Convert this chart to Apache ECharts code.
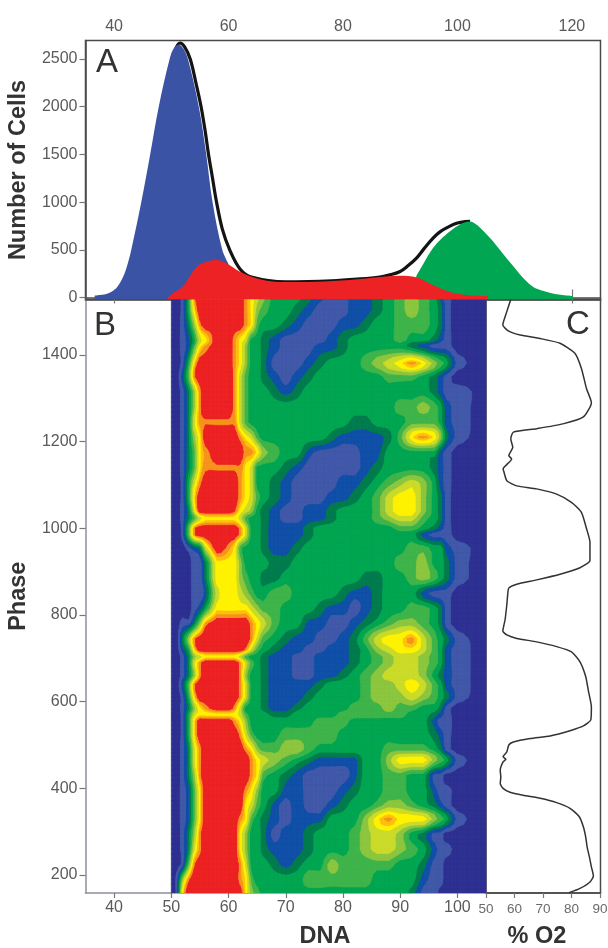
<!DOCTYPE html>
<html><head><meta charset="utf-8">
<style>html,body{margin:0;padding:0;background:#fff}#c{width:608px;height:948px}</style>
<script src="https://cdn.jsdelivr.net/npm/echarts@6/dist/echarts.min.js"></script>
</head><body><div id="c"></div>
<script>
// Panel A: histogram curves [DNA, cells]
const totalCurve = [[50.7,2600],[51.5,2668],[52.3,2630],[53.3,2500],[54.3,2250],[55.2,2000],[55.9,1750],[56.5,1500],[57.2,1250],[57.9,1000],[58.9,720],[60.2,500],[62,300],[64,215],[70,165],[78,175],[83,195],[86.4,215],[88,235],[89.9,270],[91.4,335],[92.8,410],[94.2,515],[95.7,620],[97,690],[98.6,745],[100,780],[101.4,795],[102.2,797]];
const g1Curve = [[36.6,20],[37.5,26],[39,45],[40.4,100],[41.6,220],[42.4,360],[43,500],[44.75,1000],[46.3,1500],[47.8,2000],[49.7,2500],[50.4,2610],[51.3,2650],[52.1,2610],[52.9,2500],[54.8,2000],[56.1,1500],[57.2,1000],[58.9,500],[60,350]];
const sCurve = [[49.4,0],[50.3,45],[52,115],[54.4,320],[56.1,375],[57.9,393],[59.6,360],[62,270],[64.3,212],[66.7,176],[69.5,162],[72.4,162],[78.2,173],[84,200],[89.9,228],[92.8,212],[95.7,131],[98.6,60],[101.6,26],[105.3,15]];
const g2Curve = [[92.8,225],[94.2,370],[95.7,515],[97.1,610],[98.6,690],[100,750],[101.2,785],[102.2,797],[103.3,765],[104.4,705],[105.9,610],[107.4,500],[108.8,395],[110.3,288],[111.7,190],[113.2,113],[114.6,75],[116.1,50],[118,28],[120.2,15]];

// Panel B: contour density on a DNA x phase lattice
const dnaNodes = [50,51,52,53,54,55,56,58,60,61,62,63,64,65,66,68,70,72,74,76,78,80,82,84,86,88,90,92,94,96,97,98,100,105];
const phaseNodes = [1540,1505,1470,1435,1419,1381,1350,1315,1280,1245,1210,1175,1140,1105,1070,1040,1023,1000,985,955,920,885,850,815,780,745,720,704,690,660,640,610,585,570,555,525,490,465,430,395,360,329,295,260,225,190,155];
const densityRows = [
[0,0,1,4,9,10,10,10,10,10,10,9,8,7,6,4,4,4,3,2,1,1,2,2,3,4,5,6,5,4,2,1,0,0],
[0,0,1,4,8,10,10,10,10,10,10,9,8,6,5,4,4,3,2,1,1,1,2,2,3,4,5,6,5,4,3,1,0,0],
[0,0,1,3,6,9,10,10,10,10,10,9,8,5,4,4,3,2,1,1,1,2,2,3,4,4,5,5,5,4,3,1,0,0],
[0,0,1,2,4,7,8,10,10,9,8,7,4,4,3,2,1,1,1,1,2,3,4,4,4,4,5,4,4,3,2,1,0,0],
[0,0,1,2,5,8,9,10,10,9,8,6,4,4,3,2,1,1,1,2,2,3,4,4,4,4,4,3,2,1,1,1,0,0],
[0,0,1,4,8,10,10,10,10,9,8,6,4,4,3,1,1,1,2,3,4,4,4,5,6,7,8,9,8,6,5,4,1,0],
[0,0,2,5,9,10,10,10,10,9,7,5,4,4,3,2,1,2,3,4,4,4,4,4,4,5,5,5,4,3,2,1,0,0],
[0,0,1,3,6,9,10,10,10,9,7,5,4,4,4,3,2,3,4,4,4,4,4,4,4,4,4,4,4,3,2,1,1,0],
[0,0,1,3,6,9,10,10,10,9,7,5,4,4,4,4,4,4,4,4,4,4,4,4,4,4,5,5,6,5,4,2,1,0],
[0,0,1,3,7,9,9.3,9.3,9.3,9.2,7,5,4,4,4,4,4,4,4,4,4,4,3,3,4,4,4,5,5,5,4,2,1,0],
[0,0,1,3,6,8,10,10,10,10,9,8,7,5,4,4,4,4,4,4,3,2,2,2,2,3,5,8,9,8,6,3,1,0],
[0,0,1,3,5,8,9,10,10,10,10,9,9,8,6,5,4,4,2,1,1,1,1,2,2,4,4,4,4,4,2,1,0,0],
[0,0,1,3,5,8,9.2,9.3,9.3,9.3,9.2,8,7,4,4,4,3,2,1,1,1,1,1,2,3,4,4,4,4,3,2,1,0,0],
[0,0,1,4,7,9,10,10,10,10,9,8,7,4,4,3,2,1,1,1,1,2,2,3,4,5,6,7,6,4,2,1,0,0],
[0,0,1,4,8,10,10,10,10,10,9,8,7,5,4,3,2,1,1,1,2,2,3,4,5,7,8,8,6,4,3,1,0,0],
[0,0,1,3,7,10,10,10,10,9.5,8,7,6,4,3,2,1,1,2,2,3,4,4,4,5,7,8,8,6,4,3,1,0,0],
[0,0,1,3,5,7,8,8,8,8,7,5,4,4,3,2,1,1,2,2,3,4,4,4,5,6,7,7,5,4,3,1,0,0],
[0,0,1,5,9,10,10,10,10,10,9,7,4,4,3,2,2,2,3,4,4,4,4,4,4,4,5,5,4,3,2,1,0,0],
[0,0,1,5,9,10,10,10,10,10,9,7,4,4,3,2,2,2,3,4,4,4,4,4,4,4,4,4,2,1,1,1,0,0],
[0,0,0,1,2,3,7,10,9,8,5,4,4,4,3,2,2,3,4,4,4,4,4,4,4,4,4,5,5,4,4,2,1,0],
[0,0,0,0,1,1,3,8,8,8,6,4,4,4,4,3,3,4,4,4,4,4,4,4,4,4,5,5,6,4,4,3,1,0],
[0,0,0,0,1,1,3,8,8,8,6,5,4,4,3,3,4,4,4,4,4,4,4,3,3,4,4,5,6,5,4,3,1,0],
[0,0,0,0,1,1,2,7,8,8,7,6,5,4,4,5,5,4,4,4,4,3,2,2,3,4,4,4,2,1,1,1,0,0],
[0,0,0,0,1,2,4,8,8,8,8,8,7,6,5,5,4,4,4,3,2,2,1,2,3,4,4,5,5,4,3,1,0,0],
[0,0,1,1,3,6,9,10,10,10,10,10,9,8,7,5,4,4,2,2,1,1,2,3,4,5,6,6,5,4,3,1,0,0],
[0,0,3,6,9,10,10,10,10,10,10,10,9,7,5,4,3,2,2,1,1,2,3,5,7,8,8,9,7,5,4,3,1,0],
[0,0,2,4,8,10,10,10,10,10,10,9,7,5,4,3,2,2,1,1,2,2,3,4,6,7,8,8,7,5,4,2,1,0],
[0,0,1,3,6,7,8,8,8,8,7,5,4,4,3,2,2,1,1,2,2,2,3,4,5,6,7,7,6,5,4,2,1,0],
[0,0,1,3,7,9,10,10,10,10,9,7,5,4,3,2,2,1,1,2,2,2,3,4,5,6,7,7,6,5,4,2,1,0],
[0,0,1,3,6,9,10,10,10,10,9,6,4,4,3,2,2,1,1,2,2,3,4,5,6,7,7,7,6,4,3,2,1,0],
[0,0,2,5,9,10,10,10,10,10,9,7,4,4,3,2,2,2,2,3,4,4,4,5,6,6,7,8,7,5,4,2,1,0],
[0,0,1,4,8,10,10,10,10,10,9,7,4,4,3,2,2,2,3,4,4,4,4,5,6,6,6,7,6,5,4,3,1,0],
[0,0,1,3,6,8,9,10,10,9,7,4,4,4,3,2,2,3,4,4,4,4,5,5,5,6,5,5,4,4,3,1,0,0],
[0,0,1,4,7,8,8,8,8,8,7,5,4,4,4,3,3,4,4,4,4,5,5,5,5,5,5,4,4,3,2,1,0,0],
[0,0,1,4,8,10,10,10,10,9,8,6,4,4,4,4,4,4,4,5,5,5,4,4,4,4,4,4,4,2,1,1,0,0],
[0,0,1,4,8,10,10,10,10,10,9,7,5,4,4,4,5,5,5,5,5,4,4,4,4,4,4,4,4,3,2,1,0,0],
[0,0,1,3,7,9,10,10,10,10,10,9,8,6,5,5,6,6,5,4,4,4,4,4,4,5,5,5,5,4,3,1,0,0],
[0,0,1,3,7,9,10,10,10,10,10,10,9,8,7,6,5,4,3,2,2,2,2,4,4,6,8,8,8,6,5,4,1,0],
[0,0,1,3,6,9,10,10,10,10,10,10,9,8,5,4,3,2,1,1,1,1,2,4,4,5,5,4,4,1,1,0,0,0],
[0,0,1,2,5,8,10,10,10,10,10,9,8,6,4,4,2,2,1,1,1,2,3,4,4,5,5,4,4,2,1,1,0,0],
[0,0,1,2,5,8,10,10,10,10,10,8,7,5,4,2,1,2,1,1,2,3,4,4,5,6,6,5,4,3,2,1,0,0],
[0,0,1,2,5,8,10,10,10,10,9,8,5,4,3,2,1,2,2,2,4,4,4,6,8,9,8,8,8,6,5,4,1,0],
[0,0,1,3,6,9,10,10,10,10,8,6,4,4,3,1,2,2,3,4,4,4,5,6,7,7,6,4,3,1,1,0,0,0],
[0,0,1,3,7,9,10,10,10,10,8,6,4,4,3,2,2,2,3,4,4,4,5,6,7,7,6,5,4,2,1,1,0,0],
[0,0,1,5,9,10,10,10,10,10,9,7,4,4,4,3,2,3,4,4,6,5,5,5,5,5,4,4,3,1,1,0,0,0],
[0,1,6,9,10,10,10,10,10,10,9,8,5,4,4,4,4,4,5,5,5,5,5,5,4,4,4,4,2,1,1,0,0,0],
[0,1,8,10,10,10,10,10,10,10,10,8,6,5,4,4,4,4,4,4,4,4,4,4,4,4,4,3,1,1,0,0,0,0]
];
const bandFloors = [-1,0.5,1.5,2.5,3.5,4.5,5.5,6.5,7.5,8.3,8.8,9.4];
const bandColors = ['#2e3192','#4259a9','#1150a8','#007c4e','#00a651','#3fb44a','#8dc63f','#cbdb2a','#fff200','#fdc010','#f7941d','#ed2224'];

// Panel C: oxygen trace [% O2, phase]
const o2Trace = [[79.2,159],[83,169],[86.5,184],[87.7,198],[87,219],[86.3,242],[85.5,265],[85,288],[84.2,311],[82.7,335],[79.5,354],[74.8,367],[69,377],[63,384],[58.4,391],[56,400],[55,411],[55.2,426],[55,442],[56,461],[57,467],[56,473],[57.3,484],[58,500],[59.6,507],[65.5,515],[72.5,521],[79.5,533],[84.2,544],[86.8,558],[87,588],[86,623],[85,658],[83,692],[80,715],[74.8,727],[67.8,738],[60.8,746],[57.3,754],[55.9,763],[56.3,777],[56.7,789],[57.3,823],[57.6,846],[58,862],[60.8,871],[67.8,881],[76,894],[83,909],[86.5,926],[86.5,968],[85.3,999],[83.5,1037],[80,1060],[74.8,1079],[67.8,1091],[60.8,1098],[57.3,1110],[56.3,1130],[56,1137],[59,1160],[58,1168],[59.4,1187],[58.7,1206],[59.6,1222],[67.8,1230],[77,1241],[84.2,1257],[87,1290],[85.3,1322],[83.5,1369],[81.2,1404],[76,1427],[69,1438],[62,1446],[58,1455],[55.9,1469],[57.3,1500],[58.7,1528]];

// Tick labels
const dnaTopTicks = [40,60,80,100,120];
const dnaBottomTicks = [40,50,60,70,80,90,100];
const cellTicks = [0,500,1000,1500,2000,2500];
const phaseTicks = [200,400,600,800,1000,1200,1400];
const o2Ticks = [50,60,70,80,90];

const FONT = '"Liberation Sans", Arial, sans-serif';
const lineDark = '#4a4a4a', lineSoft = '#8f8f9a', labelCol = '#5a5a5a';
const phaseMin = 158.5, phaseMax = 1528;
const SUB = 3; // contour tracing steps per lattice cell

function cr(a, b, c, d, t) {
  const v = 0.5 * (2*b + (c-a)*t + (2*a-5*b+4*c-d)*t*t + (3*b-a-3*c+d)*t*t*t);
  return Math.max(Math.min(b, c), Math.min(Math.max(b, c), v));
}
const nR = phaseNodes.length, nC = dnaNodes.length;
function smoothField() {
  const h = [];
  for (let r = 0; r < nR; r++) {
    const row = [];
    for (let c = 0; c < nC - 1; c++) for (let s = 0; s < SUB; s++) {
      const g = (k) => densityRows[r][Math.max(0, Math.min(nC - 1, k))];
      row.push(cr(g(c-1), g(c), g(c+1), g(c+2), s / SUB));
    }
    row.push(densityRows[r][nC-1]);
    h.push(row);
  }
  const out = [];
  for (let r = 0; r < nR - 1; r++) for (let s = 0; s < SUB; s++) {
    const g = (k) => h[Math.max(0, Math.min(nR - 1, k))];
    out.push(h[r].map((_, i) => cr(g(r-1)[i], g(r)[i], g(r+1)[i], g(r+2)[i], s / SUB)));
  }
  out.push(h[nR-1]);
  return out;
}
const field = smoothField();
const at = (nodes, u) => { const i = Math.min(nodes.length - 2, Math.floor(u)); return nodes[i] + (nodes[i+1] - nodes[i]) * (u - i); };

function clipCell(corners, floor) {
  const out = [];
  for (let k = 0; k < 4; k++) {
    const a = corners[k], b = corners[(k + 1) % 4];
    if (a[2] >= floor) out.push([a[0], a[1]]);
    if ((a[2] >= floor) !== (b[2] >= floor)) {
      const t = (floor - a[2]) / (b[2] - a[2]);
      out.push([a[0] + (b[0] - a[0]) * t, a[1] + (b[1] - a[1]) * t]);
    }
  }
  return out;
}
function contourSeries(level) {
  const floor = bandFloors[level], color = bandColors[level];
  return {
    type: 'custom', xAxisIndex: 2, yAxisIndex: 1, coordinateSystem: 'cartesian2d',
    data: [[dnaNodes[0], phaseNodes[nR-1]]], encode: { x: 0, y: 1 }, clip: true, silent: true, animation: false, z: 2 + level * 0.01,
    renderItem(params, api) {
      const xs = field[0].map((_, i) => api.coord([at(dnaNodes, i / SUB), phaseMin])[0]);
      const ys = field.map((_, j) => api.coord([dnaNodes[0], at(phaseNodes, j / SUB)])[1]);
      const d = [];
      let x0 = 1e9, y0 = 1e9, x1 = -1e9, y1 = -1e9;
      for (let j = 0; j < field.length - 1; j++) for (let i = 0; i < xs.length - 1; i++) {
        const v = [field[j][i], field[j][i+1], field[j+1][i+1], field[j+1][i]];
        if (Math.max(v[0], v[1], v[2], v[3]) < floor) continue;
        const pts = clipCell([[xs[i],ys[j],v[0]],[xs[i+1],ys[j],v[1]],[xs[i+1],ys[j+1],v[2]],[xs[i],ys[j+1],v[3]]], floor);
        if (pts.length < 3) continue;
        pts.forEach((p, n) => {
          d.push((n ? 'L' : 'M') + p[0].toFixed(2) + ' ' + p[1].toFixed(2));
          x0 = Math.min(x0, p[0]); x1 = Math.max(x1, p[0]); y0 = Math.min(y0, p[1]); y1 = Math.max(y1, p[1]);
        });
        d.push('Z');
      }
      if (!d.length) return null;
      return { type: 'path', shape: { pathData: d.join(''), x: x0, y: y0, width: x1 - x0, height: y1 - y0, layout: 'cover' },
        style: { fill: color, stroke: color, lineWidth: 0.7 } };
    }
  };
}
function curve(data, color, xA, yA, z, fill) {
  const s = { type: 'line', data, xAxisIndex: xA, yAxisIndex: yA, smooth: 0.35, showSymbol: false, symbol: 'none', z, silent: true, animation: false,
    lineStyle: { color: fill ? color : '#141414', width: fill ? 0 : 3.2 } };
  if (fill) s.areaStyle = { color, opacity: 1, origin: 'start' };
  return s;
}

const chart = echarts.init(document.getElementById('c'), null, { renderer: 'canvas' });
const plain = (v) => String(v);
const tickLab = (vals, size, margin, col) => ({ customValues: vals, formatter: plain, fontSize: size, margin, color: col || labelCol, fontFamily: FONT });
chart.setOption({
  animation: false,
  backgroundColor: '#fff',
  textStyle: { fontFamily: FONT },
  grid: [
    { left: 85.5, top: 40.5, width: 515, height: 259, outerBoundsMode: 'none', containLabel: false, show: true, borderColor: lineDark, borderWidth: 1.5, backgroundColor: 'transparent' },
    { left: 85.5, top: 299.5, width: 400.5, height: 593.5, outerBoundsMode: 'none', containLabel: false },
    { left: 486, top: 299.5, width: 114.5, height: 593.5, outerBoundsMode: 'none', containLabel: false, show: true, borderColor: lineDark, borderWidth: 1.5, backgroundColor: 'transparent' }
  ],
  xAxis: [
    { type: 'value', gridIndex: 0, position: 'top', min: 35, max: 125, splitLine: { show: false },
      axisLine: { lineStyle: { color: lineDark, width: 1.5 } }, axisTick: { customValues: dnaTopTicks, length: 8, lineStyle: { color: '#777', width: 1.2 } }, axisLabel: tickLab(dnaTopTicks, 16, 6) },
    { type: 'value', gridIndex: 0, position: 'bottom', min: 35, max: 125, splitLine: { show: false },
      axisLine: { lineStyle: { color: lineDark, width: 1.5 } }, axisTick: { customValues: dnaTopTicks, length: 4, lineStyle: { color: '#777', width: 1.2 } }, axisLabel: { show: false } },
    { type: 'value', gridIndex: 1, position: 'bottom', min: 35, max: 105, splitLine: { show: false },
      axisLine: { lineStyle: { color: lineSoft, width: 1.5 } }, axisTick: { customValues: dnaBottomTicks, length: 5, lineStyle: { color: '#777', width: 1.2 } }, axisLabel: tickLab(dnaBottomTicks, 16, 7) },
    { type: 'value', gridIndex: 2, position: 'bottom', min: 50, max: 90.2, splitLine: { show: false },
      axisLine: { lineStyle: { color: lineDark, width: 1.5 } }, axisTick: { customValues: o2Ticks, length: 5, lineStyle: { color: '#777', width: 1.2 } }, axisLabel: tickLab(o2Ticks, 13.5, 9, '#6a6a6a') }
  ],
  yAxis: [
    { type: 'value', gridIndex: 0, min: -21, max: 2694, splitLine: { show: false }, name: 'Number of Cells', nameLocation: 'middle', nameGap: 52, nameTextStyle: { fontSize: 23.5, fontWeight: 'bold', color: '#333', fontFamily: FONT },
      axisLine: { lineStyle: { color: lineDark, width: 1.5 } }, axisTick: { customValues: cellTicks, length: 6, lineStyle: { color: '#777', width: 1.2 } }, axisLabel: tickLab(cellTicks, 16, 8) },
    { type: 'value', gridIndex: 1, min: phaseMin, max: phaseMax, splitLine: { show: false }, name: 'Phase', nameLocation: 'middle', nameGap: 42, nameTextStyle: { fontSize: 23.5, fontWeight: 'bold', color: '#333', fontFamily: FONT },
      axisLine: { lineStyle: { color: lineSoft, width: 1.5 } }, axisTick: { customValues: phaseTicks, length: 6, lineStyle: { color: '#777', width: 1.2 } }, axisLabel: tickLab(phaseTicks, 16, 8) },
    { type: 'value', gridIndex: 2, min: phaseMin, max: phaseMax, splitLine: { show: false }, axisLine: { show: false }, axisTick: { show: false }, axisLabel: { show: false } }
  ],
  series: [
    curve(totalCurve, '#141414', 0, 0, 3, false),
    curve(g1Curve, '#3a53a4', 0, 0, 4, true),
    curve(g2Curve, '#00a651', 0, 0, 5, true),
    curve(sCurve, '#ed2224', 0, 0, 6, true),
    ...bandFloors.map((_, i) => contourSeries(i)),
    { type: 'line', data: o2Trace, xAxisIndex: 3, yAxisIndex: 2, smooth: 0.2, symbol: 'none', showSymbol: false, silent: true, animation: false, lineStyle: { color: '#333', width: 1.5 } }
  ],
  graphic: [
    { type: 'text', x: 96, y: 63, style: { text: 'A', fontSize: 33, fill: '#333', textVerticalAlign: 'middle', fontFamily: FONT } },
    { type: 'text', x: 94, y: 326, style: { text: 'B', fontSize: 33, fill: '#333', textVerticalAlign: 'middle', fontFamily: FONT } },
    { type: 'text', x: 566, y: 325, style: { text: 'C', fontSize: 33, fill: '#333', textVerticalAlign: 'middle', fontFamily: FONT } },
    { type: 'text', x: 325, y: 937, style: { text: 'DNA', fontSize: 23.5, fontWeight: 'bold', fill: '#333', textAlign: 'center', textVerticalAlign: 'middle', fontFamily: FONT } },
    { type: 'text', x: 537, y: 937, style: { text: '% O2', fontSize: 23.5, fontWeight: 'bold', fill: '#333', textAlign: 'center', textVerticalAlign: 'middle', fontFamily: FONT } }
  ]
});
</script></body></html>
